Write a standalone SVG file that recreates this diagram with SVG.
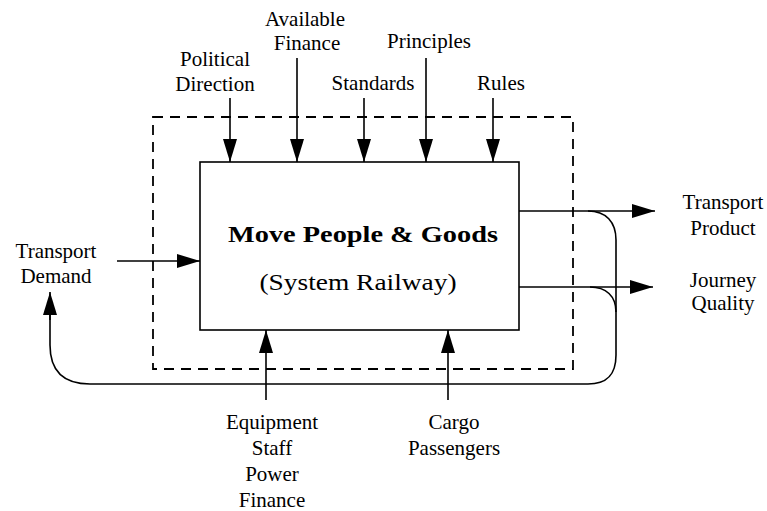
<svg xmlns="http://www.w3.org/2000/svg" width="767" height="511" viewBox="0 0 767 511">
<defs>
<marker id="ah" markerUnits="userSpaceOnUse" markerWidth="24" markerHeight="14" refX="23" refY="7" orient="auto">
<path d="M0,0 L23,7 L0,14 z" fill="#000"/>
</marker>
<style>
.lbl{font-family:"Liberation Serif","Times New Roman",serif;font-size:21px;fill:#000;text-anchor:middle}
.ttl{font-family:"Liberation Serif","Times New Roman",serif;fill:#000;text-anchor:middle}
.ln{fill:none;stroke:#000;stroke-width:1.6}
.arr{fill:none;stroke:#000;stroke-width:1.6;marker-end:url(#ah)}
.dash{fill:none;stroke:#000;stroke-width:1.8;stroke-dasharray:10 7}
</style>
</defs>
<rect width="767" height="511" fill="#fff"/>

<g id="boundary">
<rect class="dash" x="153" y="117" width="420" height="252"/>
</g>

<g id="process">
<rect class="ln" x="200" y="162" width="319" height="168" fill="#fff"/>
<text class="ttl" x="363" y="242" font-size="24" font-weight="bold" textLength="270" lengthAdjust="spacingAndGlyphs">Move People &amp; Goods</text>
<text class="ttl" x="358" y="290" font-size="24" textLength="197" lengthAdjust="spacingAndGlyphs">(System Railway)</text>
</g>

<g id="connectors">
<line class="arr" x1="230" y1="98" x2="230" y2="162"/>
<line class="arr" x1="297" y1="58" x2="297" y2="162"/>
<line class="arr" x1="364" y1="98" x2="364" y2="162"/>
<line class="arr" x1="426" y1="58" x2="426" y2="162"/>
<line class="arr" x1="493" y1="98" x2="493" y2="162"/>
<line class="arr" x1="117" y1="261" x2="200" y2="261"/>
<line class="arr" x1="266" y1="400" x2="266" y2="330"/>
<line class="arr" x1="448" y1="400" x2="448" y2="330"/>
<line class="arr" x1="519" y1="211" x2="655" y2="211"/>
<line class="arr" x1="519" y1="287" x2="653" y2="287"/>
<path class="ln" d="M588,211 C606,211 616,222 616,240 L616,355 C616,376 606,384 588,384 L90,384 C64,384 50,372 50,345 L50,310"/>
<line class="arr" x1="50" y1="320" x2="50" y2="292"/>
<path class="ln" d="M590,287 C606,287 616,296 616,312"/>
</g>

<g id="label-political"><text class="lbl" x="215" y="66">Political</text><text class="lbl" x="215" y="91">Direction</text></g>
<g id="label-finance"><text class="lbl" x="305" y="26">Available</text><text class="lbl" x="307" y="50">Finance</text></g>
<g id="label-standards"><text class="lbl" x="373" y="90">Standards</text></g>
<g id="label-principles"><text class="lbl" x="429" y="48">Principles</text></g>
<g id="label-rules"><text class="lbl" x="501" y="90">Rules</text></g>
<g id="label-demand"><text class="lbl" x="56" y="258">Transport</text><text class="lbl" x="56" y="283">Demand</text></g>
<g id="label-product"><text class="lbl" x="723" y="209">Transport</text><text class="lbl" x="723" y="235">Product</text></g>
<g id="label-quality"><text class="lbl" x="723" y="287">Journey</text><text class="lbl" x="723" y="310">Quality</text></g>
<g id="label-resources"><text class="lbl" x="272" y="429">Equipment</text><text class="lbl" x="272" y="455">Staff</text><text class="lbl" x="272" y="481">Power</text><text class="lbl" x="272" y="507">Finance</text></g>
<g id="label-cargo"><text class="lbl" x="454" y="429">Cargo</text><text class="lbl" x="454" y="455">Passengers</text></g>
</svg>
